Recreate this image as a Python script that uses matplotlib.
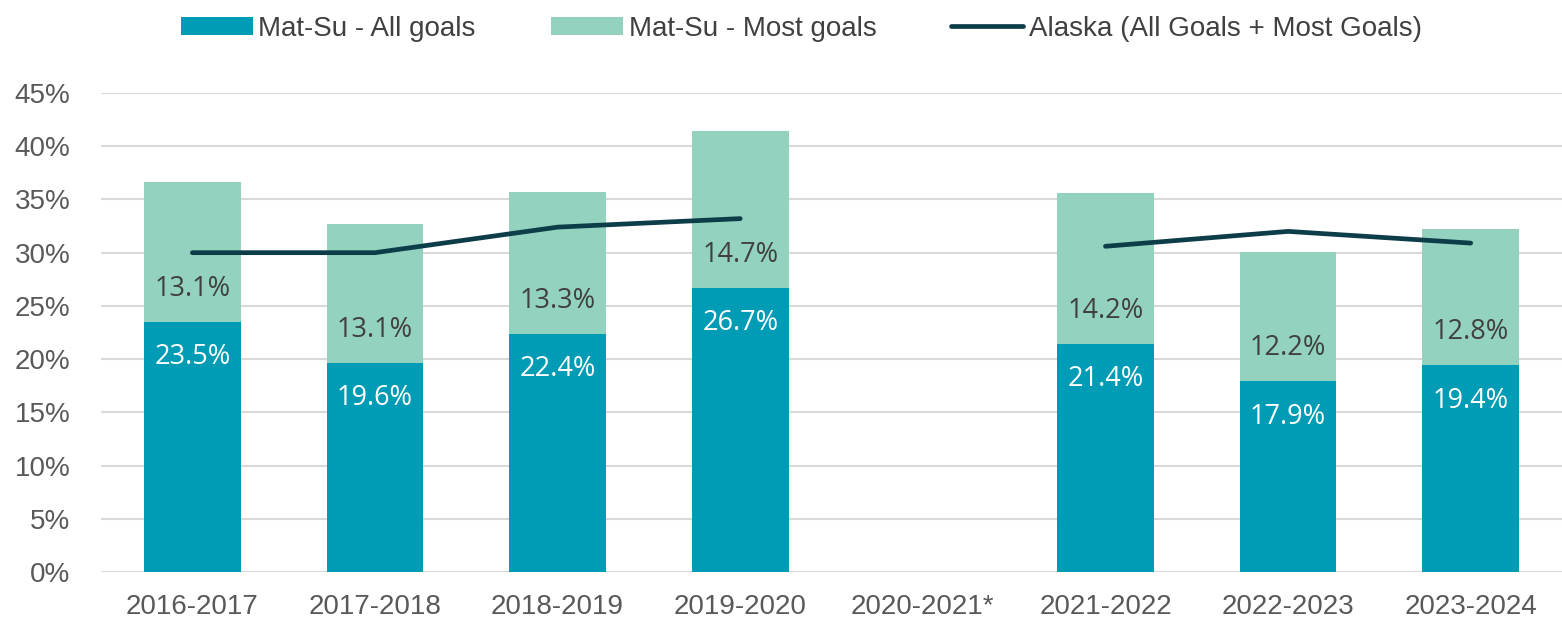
import matplotlib.pyplot as plt
import numpy as np
from matplotlib.font_manager import fontManager

# Narrow face for axes text if present, otherwise a regular sans
names = {f.name for f in fontManager.ttflist}
narrow = 'Liberation Sans Narrow' if 'Liberation Sans Narrow' in names else 'Liberation Sans'

years = ['2016-2017', '2017-2018', '2018-2019', '2019-2020', '2020-2021*',
         '2021-2022', '2022-2023', '2023-2024']
all_goals = [23.5, 19.6, 22.4, 26.7, np.nan, 21.4, 17.9, 19.4]
most_goals = [13.1, 13.1, 13.3, 14.7, np.nan, 14.2, 12.2, 12.8]
alaska = [30.0, 30.0, 32.4, 33.2, np.nan, 30.6, 32.0, 30.9]

c_all = '#009bb4'
c_most = '#93d2bf'
c_line = '#0e3d4a'
c_text = '#595959'

x = np.arange(len(years))
width = 0.53

fig = plt.figure(figsize=(15.62, 6.26), dpi=100)
ax = fig.add_axes([0.0647, 0.0863, 0.9353, 0.7651])

a = np.nan_to_num(all_goals)
m = np.nan_to_num(most_goals)
b1 = ax.bar(x, a, width, color=c_all, label='Mat-Su - All goals', zorder=2)
b2 = ax.bar(x, m, width, bottom=a, color=c_most, label='Mat-Su - Most goals', zorder=2)
ln, = ax.plot(x, alaska, color=c_line, linewidth=3.4, solid_capstyle='round',
              label='Alaska (All Goals + Most Goals)', zorder=3)

for i in range(len(years)):
    if np.isnan(all_goals[i]):
        continue
    ax.text(x[i], all_goals[i] - 3.3, f'{all_goals[i]:.1f}%', ha='center', va='center',
            color='white', fontsize=19.5, family='Open Sans', zorder=4)
    ax.text(x[i], all_goals[i] + 3.1, f'{most_goals[i]:.1f}%', ha='center', va='center',
            color='#404040', fontsize=19.5, family='Open Sans', zorder=4)

ax.set_xlim(-0.5, len(years) - 0.5)
ax.set_ylim(0, 45)
ax.set_yticks(np.arange(0, 46, 5))
ax.set_yticklabels([f'{v}%' for v in range(0, 46, 5)], family=narrow, fontsize=20, color=c_text)
ax.set_xticks(x)
ax.set_xticklabels(years, family=narrow, fontsize=20, color=c_text)
ax.tick_params(axis='x', length=0, pad=16)
ax.tick_params(axis='y', length=0, pad=22)
ax.grid(axis='y', color='#d9d9d9', linewidth=1.5, zorder=0)
for s in ax.spines.values():
    s.set_visible(False)

fig.legend(handles=[b1, b2, ln], loc='upper center', bbox_to_anchor=(0.513, 1.015), ncol=3,
           frameon=False, prop={'family': narrow, 'size': 20}, labelcolor='#404040',
           handlelength=2.6, handleheight=0.65, handletextpad=0.2, columnspacing=2.7)

fig.savefig('out.png', dpi=100)
